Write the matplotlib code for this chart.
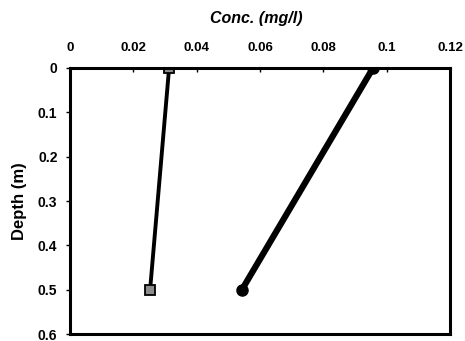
import matplotlib
matplotlib.use("Agg")
import matplotlib.pyplot as plt

# data
depth = [0, 0.5]
conc_a = [0.0313, 0.0253]   # square markers
conc_b = [0.0957, 0.0543]   # round markers
x_ticks = [0, 0.02, 0.04, 0.06, 0.08, 0.1, 0.12]
x_labels = ["0", "0.02", "0.04", "0.06", "0.08", "0.1", "0.12"]
y_ticks = [0, 0.1, 0.2, 0.3, 0.4, 0.5, 0.6]
y_labels = ["0", "0.1", "0.2", "0.3", "0.4", "0.5", "0.6"]

plt.rcParams['font.family'] = ['Liberation Sans', 'DejaVu Sans']

fig = plt.figure(figsize=(4.65, 3.41), dpi=100)
ax = fig.add_axes([0.1505, 0.0205, 0.8172, 0.7801])

ax.plot(conc_a, depth, color='black', linewidth=2.8, marker='s', markersize=7,
        markerfacecolor='#8c8c8c', markeredgecolor='black', markeredgewidth=1.3)
ax.plot(conc_b, depth, color='black', linewidth=4.5, marker='o', markersize=8,
        markerfacecolor='black', markeredgecolor='black')

ax.set_xlim(0, 0.12)
ax.set_ylim(0.6, 0)
ax.xaxis.tick_top()
ax.set_xticks(x_ticks)
ax.set_xticklabels(x_labels, fontsize=9.5, fontweight='bold')
ax.set_yticks(y_ticks)
ax.set_yticklabels(y_labels, fontsize=10, fontweight='bold')
ax.tick_params(axis='x', direction='in', length=3, width=1, pad=10)
ax.tick_params(axis='y', direction='out', length=3, width=1, pad=6)

for s in ax.spines.values():
    s.set_linewidth(2.2)

fig.text(0.5505, 0.945, "Conc. (mg/l)", ha='center', va='center',
         fontsize=11.5, fontweight='bold', fontstyle='italic')
ax.set_ylabel("Depth (m)", fontsize=12, fontweight='bold', labelpad=8)

fig.savefig("out.png", dpi=100)
